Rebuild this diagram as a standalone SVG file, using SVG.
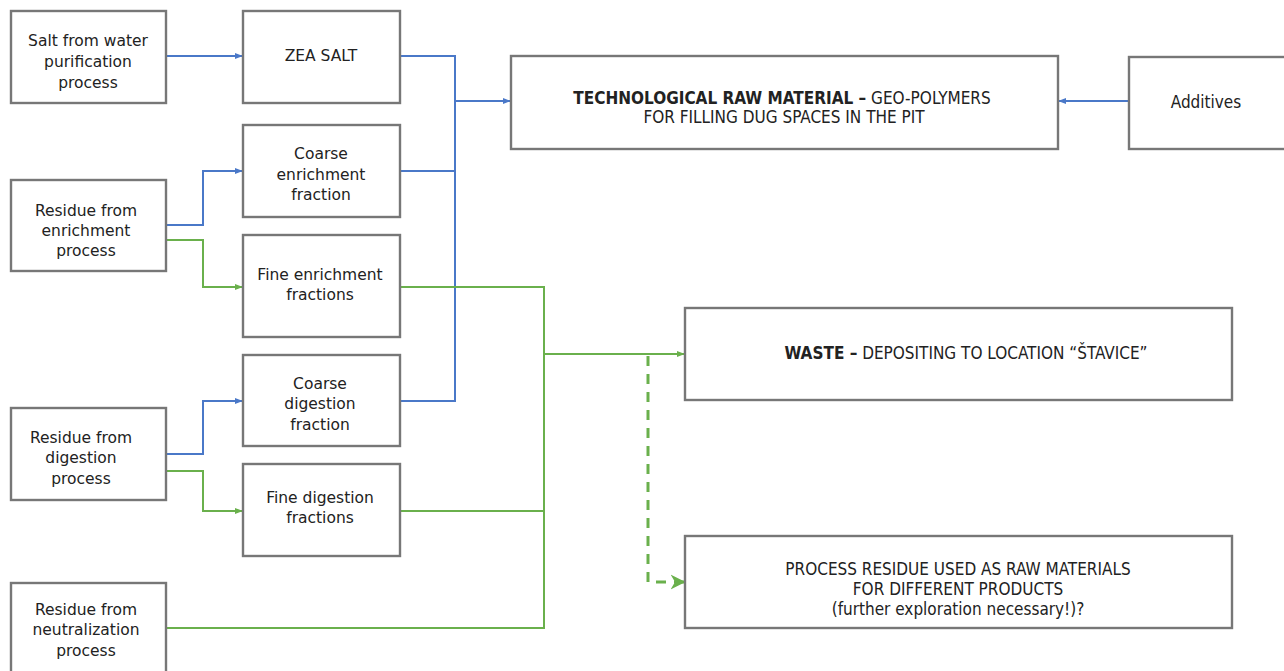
<svg xmlns="http://www.w3.org/2000/svg" width="1284" height="671" viewBox="0 0 1284 671">
<defs>
<marker id="ab" viewBox="0 0 10 10" refX="9" refY="5" markerWidth="4" markerHeight="4" orient="auto" markerUnits="strokeWidth"><path d="M0,1 L10,5 L0,9 z" fill="#4a78c8"/></marker>
<marker id="ag" viewBox="0 0 10 10" refX="9" refY="5" markerWidth="4" markerHeight="4" orient="auto" markerUnits="strokeWidth"><path d="M0,1 L10,5 L0,9 z" fill="#6ab04c"/></marker>
<marker id="agd" viewBox="0 0 10 10" refX="9" refY="5" markerWidth="5" markerHeight="6" orient="auto" markerUnits="strokeWidth"><path d="M0,0 L10,5 L0,10 L3,5 z" fill="#6ab04c"/></marker>
</defs>
<style>
.box{fill:#fff;stroke:#777;stroke-width:2.4}
.t{font-family:"DejaVu Sans","Liberation Sans",sans-serif;font-size:15.5px;fill:#222;text-anchor:middle}
.c{font-family:"DejaVu Sans Condensed","DejaVu Sans","Liberation Sans",sans-serif;font-stretch:condensed;font-size:17px;fill:#222;text-anchor:middle}
.b{font-weight:bold}
.bl{fill:none;stroke:#4a78c8;stroke-width:2}
.gr{fill:none;stroke:#6ab04c;stroke-width:2}
.gd{fill:none;stroke:#6ab04c;stroke-width:3;stroke-dasharray:10,8}
</style>
<rect width="1284" height="671" fill="#fff"/>
<g id="connectors">
<path class="bl" d="M166,56 H242" marker-end="url(#ab)"/>
<path class="bl" d="M400,56 H455 V401 H400"/>
<path class="bl" d="M400,171 H455"/>
<path class="bl" d="M455,101 H510" marker-end="url(#ab)"/>
<path class="bl" d="M166,225 H203 V171 H242" marker-end="url(#ab)"/>
<path class="bl" d="M166,454 H203 V401 H242" marker-end="url(#ab)"/>
<path class="bl" d="M1129,101 H1059" marker-end="url(#ab)"/>
<path class="gr" d="M166,240 H203 V287 H242" marker-end="url(#ag)"/>
<path class="gr" d="M166,471 H203 V511 H242" marker-end="url(#ag)"/>
<path class="gr" d="M400,287 H544 V628 H166"/>
<path class="gr" d="M400,511 H544"/>
<path class="gr" d="M544,354 H684" marker-end="url(#ag)"/>
<path class="gd" d="M648,356 V582 H684" marker-end="url(#agd)"/>
</g>
<g id="n-salt"><rect class="box" x="11" y="11" width="155" height="92"/><text class="t" x="88" y="46">Salt from water</text><text class="t" x="88" y="67">purification</text><text class="t" x="88" y="88">process</text></g>
<g id="n-zea"><rect class="box" x="243" y="11" width="157" height="92"/><text class="t" x="321" y="61">ZEA SALT</text></g>
<g id="n-coarse-enr"><rect class="box" x="243" y="125" width="157" height="92"/><text class="t" x="321" y="159">Coarse</text><text class="t" x="321" y="180">enrichment</text><text class="t" x="321" y="200">fraction</text></g>
<g id="n-res-enr"><rect class="box" x="11" y="180" width="155" height="91"/><text class="t" x="86" y="216">Residue from</text><text class="t" x="86" y="236">enrichment</text><text class="t" x="86" y="256">process</text></g>
<g id="n-fine-enr"><rect class="box" x="243" y="235" width="157" height="102"/><text class="t" x="320" y="280">Fine enrichment</text><text class="t" x="320" y="300">fractions</text></g>
<g id="n-coarse-dig"><rect class="box" x="243" y="355" width="157" height="91"/><text class="t" x="320" y="389">Coarse</text><text class="t" x="320" y="409">digestion</text><text class="t" x="320" y="430">fraction</text></g>
<g id="n-res-dig"><rect class="box" x="11" y="408" width="155" height="92"/><text class="t" x="81" y="443">Residue from</text><text class="t" x="81" y="463">digestion</text><text class="t" x="81" y="484">process</text></g>
<g id="n-fine-dig"><rect class="box" x="243" y="464" width="157" height="92"/><text class="t" x="320" y="503">Fine digestion</text><text class="t" x="320" y="523">fractions</text></g>
<g id="n-res-neu"><rect class="box" x="11" y="583" width="155" height="95"/><text class="t" x="86" y="615">Residue from</text><text class="t" x="86" y="635">neutralization</text><text class="t" x="86" y="656">process</text></g>
<g id="n-tech"><rect class="box" x="511" y="56" width="547" height="93"/><text class="c" x="782" y="104"><tspan class="b">TECHNOLOGICAL RAW MATERIAL –</tspan> GEO-POLYMERS</text><text class="c" x="784" y="123">FOR FILLING DUG SPACES IN THE PIT</text></g>
<g id="n-add"><rect class="box" x="1129" y="57" width="160" height="92"/><text class="c" x="1206" y="108">Additives</text></g>
<g id="n-waste"><rect class="box" x="685" y="308" width="547" height="92"/><text class="c" x="966" y="359"><tspan class="b">WASTE –</tspan> DEPOSITING TO LOCATION “ŠTAVICE”</text></g>
<g id="n-proc"><rect class="box" x="685" y="536" width="547" height="92"/><text class="c" x="958" y="575">PROCESS RESIDUE USED AS RAW MATERIALS</text><text class="c" x="958" y="595">FOR DIFFERENT PRODUCTS</text><text class="c" x="958" y="615">(further exploration necessary!)?</text></g>
</svg>
